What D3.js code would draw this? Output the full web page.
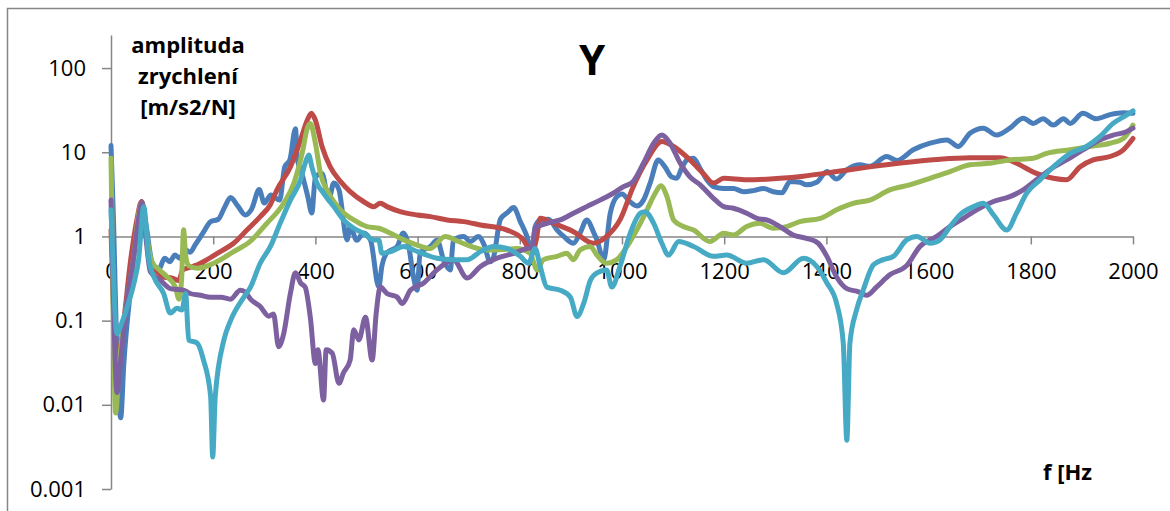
<!DOCTYPE html>
<html>
<head>
<meta charset="utf-8">
<script src="https://cdn.jsdelivr.net/npm/d3@7"></script>
<style>
  body { margin: 0; background: #fff; }
  svg { display: block; }
  .tick text { font-family: "Open Sans", sans-serif; font-size: 22px; fill: #000; }
  .lbl { font-family: "Open Sans", sans-serif; font-weight: bold; fill: #000; }
</style>
</head>
<body>
<svg id="chart" width="1170" height="511"></svg>
<script>
// frequency [Hz], amplitude [m/s2/N]
const blue = [[0,12],[5,1.5],[12,0.03],[19,0.007],[25,0.03],[40,0.3],[50,1.2],[60,2.6],[70,1.2],[80,0.5],[93,0.4],[105,0.55],[115,0.5],[125,0.6],[135,0.55],[145,0.7],[155,0.65],[165,0.8],[180,1.1],[195,1.5],[210,1.6],[222,2.2],[234,2.9],[248,2.3],[263,1.8],[275,2.1],[290,3.6],[300,2.5],[313,3.1],[330,2.7],[340,6.7],[350,8.1],[361,19],[365,8],[372,6],[385,3],[393,1.9],[400,5.1],[413,5.6],[426,2.7],[436,4.3],[446,3.6],[462,0.91],[468,1.3],[481,0.9],[494,1.1],[508,0.9],[524,0.25],[530,0.44],[540,0.64],[560,0.76],[572,1.1],[582,0.8],[592,0.33],[599,0.23],[605,0.64],[625,0.76],[638,0.9],[652,0.5],[664,0.4],[670,0.9],[690,1.0],[703,0.87],[719,1.0],[730,0.8],[742,0.5],[748,0.55],[762,1.6],[775,1.9],[788,2.2],[801,1.5],[814,1.0],[824,0.63],[830,1.3],[840,1.57],[856,1.6],[873,1.19],[886,1.0],[905,0.83],[918,1.1],[931,1.57],[945,1.1],[951,0.91],[964,0.53],[977,1.89],[990,2.97],[1000,3.2],[1015,2.6],[1029,2.3],[1042,2.7],[1055,4.3],[1071,8.1],[1084,6.7],[1097,5.1],[1107,4.9],[1117,6.5],[1127,8.1],[1140,8.5],[1153,6.4],[1166,4.7],[1179,3.9],[1199,3.7],[1218,3.7],[1238,3.4],[1257,3.5],[1277,3.7],[1296,3.4],[1313,3.3],[1329,4.5],[1348,4.4],[1361,4.1],[1381,4.4],[1401,5.9],[1420,4.8],[1440,6.2],[1466,7.1],[1485,6.8],[1518,8.9],[1538,8.0],[1570,10.7],[1603,12.8],[1636,14],[1658,11.7],[1681,16.8],[1707,19.3],[1733,16],[1759,19.3],[1785,25.4],[1805,22],[1824,25],[1844,21],[1864,25],[1877,22],[1902,29],[1928,25],[1955,28],[1981,29.5],[2000,29]];

const red = [[0,1.2],[4,0.2],[8,0.05],[16,0.045],[25,0.1],[38,0.5],[50,1.5],[60,2.6],[68,1.2],[77,0.44],[90,0.38],[103,0.33],[120,0.32],[133,0.3],[140,0.4],[149,0.42],[169,0.46],[188,0.53],[214,0.66],[240,0.83],[266,1.19],[292,1.72],[312,2.4],[325,3.6],[351,6.7],[371,14],[384,24],[392,29],[400,24],[413,11.7],[429,6.7],[449,4.5],[468,3.4],[494,2.6],[514,2.26],[527,2.48],[540,2.26],[566,1.97],[599,1.8],[625,1.72],[658,1.57],[690,1.5],[723,1.37],[775,1.19],[807,0.91],[818,0.7],[824,0.63],[832,0.9],[840,1.64],[866,1.43],[905,1.14],[944,0.83],[970,1.0],[996,1.57],[1022,3.9],[1049,8.1],[1078,13.4],[1101,11.7],[1133,8.1],[1159,5.6],[1179,4.3],[1199,4.9],[1244,4.7],[1309,4.9],[1355,5.2],[1420,5.9],[1485,6.7],[1550,7.5],[1616,8.2],[1681,8.6],[1740,8.6],[1772,7.4],[1811,5.6],[1844,4.9],[1870,4.7],[1896,6.7],[1922,8.1],[1955,8.9],[1981,10.7],[2000,14.6]];

const green = [[0,8.5],[3,0.5],[9,0.008],[16,0.03],[30,0.15],[45,0.6],[55,2.0],[60,2.5],[68,1.2],[80,0.5],[95,0.4],[110,0.33],[126,0.25],[133,0.18],[138,0.3],[142,1.2],[146,0.6],[152,0.45],[169,0.42],[201,0.48],[240,0.66],[273,0.88],[305,1.43],[338,2.48],[358,4.3],[374,9.7],[385,20],[390,22],[400,12.8],[410,5.6],[426,3.26],[449,2.07],[475,1.57],[501,1.31],[524,1.25],[547,1.09],[573,0.91],[599,0.79],[625,0.72],[654,1.0],[680,0.87],[700,0.78],[736,0.69],[770,0.7],[794,0.72],[820,0.63],[834,0.4],[846,0.53],[873,0.58],[892,0.63],[905,0.53],[918,0.69],[938,0.76],[951,0.6],[970,0.48],[990,0.53],[1010,0.76],[1029,1.2],[1049,2.07],[1065,3.26],[1076,4.0],[1088,2.97],[1101,1.57],[1120,1.31],[1140,1.19],[1172,0.87],[1199,1.09],[1218,1.04],[1244,1.31],[1270,1.43],[1296,1.25],[1322,1.31],[1348,1.5],[1388,1.64],[1420,2.07],[1453,2.48],[1485,2.7],[1524,3.57],[1563,4.1],[1603,4.9],[1642,5.9],[1681,7.1],[1720,7.4],[1759,8.1],[1805,8.5],[1831,9.7],[1877,10.7],[1916,11.7],[1955,12.8],[1981,14.6],[2000,21]];

const purple = [[0,2.7],[4,0.3],[9,0.024],[12,0.014],[18,0.03],[30,0.15],[45,0.6],[55,1.8],[60,2.5],[68,1.0],[77,0.38],[97,0.3],[116,0.24],[142,0.23],[155,0.21],[175,0.2],[195,0.19],[215,0.19],[234,0.18],[253,0.23],[262,0.22],[273,0.18],[292,0.147],[309,0.113],[318,0.12],[328,0.049],[338,0.07],[351,0.21],[361,0.37],[371,0.28],[380,0.25],[390,0.11],[400,0.031],[405,0.045],[416,0.0114],[421,0.045],[433,0.041],[446,0.018],[455,0.024],[468,0.034],[475,0.078],[485,0.059],[498,0.11],[511,0.034],[519,0.123],[527,0.25],[540,0.21],[560,0.19],[570,0.16],[586,0.23],[612,0.28],[638,0.4],[670,0.53],[697,0.32],[723,0.44],[755,0.55],[788,0.63],[814,0.72],[824,0.74],[830,1.25],[853,1.43],[879,1.57],[905,1.89],[931,2.26],[957,2.7],[983,3.26],[1003,3.9],[1022,4.5],[1042,7.4],[1062,12.8],[1078,16],[1094,12.8],[1114,7.4],[1133,5.1],[1153,4.1],[1179,2.84],[1199,2.26],[1218,2.16],[1244,1.89],[1264,1.64],[1283,1.57],[1309,1.31],[1335,1.04],[1361,0.95],[1384,0.83],[1401,0.58],[1420,0.33],[1440,0.24],[1463,0.22],[1479,0.2],[1498,0.25],[1524,0.35],[1557,0.45],[1583,0.76],[1616,1.0],[1642,1.31],[1668,1.64],[1694,2.07],[1727,2.6],[1759,2.97],[1785,3.57],[1811,4.7],[1837,6.2],[1870,8.1],[1902,10.7],[1935,14],[1961,16],[1987,17.5],[2000,19.3]];

const cyan = [[0,2.07],[4,0.5],[8,0.12],[12,0.07],[20,0.09],[32,0.147],[45,0.28],[54,0.53],[64,2.26],[74,0.53],[84,0.33],[103,0.21],[116,0.123],[129,0.14],[139,0.134],[146,0.21],[152,0.059],[169,0.054],[181,0.034],[195,0.0125],[199,0.0024],[204,0.0125],[221,0.059],[234,0.1],[260,0.19],[273,0.25],[292,0.48],[312,0.76],[331,1.43],[351,2.7],[371,4.7],[380,7.4],[387,9.3],[393,6.7],[403,4.3],[416,3.26],[436,2.26],[455,1.57],[475,1.25],[494,1.09],[514,0.91],[524,0.91],[530,0.63],[547,0.66],[573,0.76],[592,0.69],[618,0.6],[638,0.55],[670,0.53],[697,0.53],[723,0.66],[749,0.76],[775,0.72],[801,0.58],[817,0.48],[830,0.72],[840,0.44],[853,0.25],[879,0.23],[899,0.19],[912,0.112],[925,0.16],[938,0.3],[951,0.37],[970,0.4],[980,0.25],[996,0.44],[1016,1.09],[1036,1.89],[1045,1.97],[1062,1.43],[1078,0.83],[1091,0.6],[1111,0.87],[1140,0.76],[1179,0.58],[1205,0.6],[1244,0.48],[1277,0.53],[1316,0.37],[1355,0.55],[1381,0.44],[1401,0.28],[1420,0.16],[1433,0.054],[1440,0.0038],[1446,0.054],[1459,0.134],[1472,0.23],[1492,0.46],[1511,0.53],[1531,0.58],[1557,0.91],[1577,1.0],[1603,0.83],[1622,0.91],[1642,1.31],[1661,1.8],[1688,2.26],[1707,2.48],[1727,1.8],[1753,1.19],[1772,1.89],[1792,3.26],[1818,4.7],[1844,6.7],[1877,9.7],[1909,11.7],[1935,15.3],[1961,22],[1987,27.6],[2000,31]];

const seriesData = [blue, red, green, purple, cyan];
const seriesColors = ["#4a7ebb", "#be4b48", "#98b954", "#7d60a0", "#46aac5"];

const xTicks = [0, 200, 400, 600, 800, 1000, 1200, 1400, 1600, 1800, 2000];
const yTicks = [0.001, 0.01, 0.1, 1, 10, 100];
const yTickLabels = ["0.001", "0.01", "0.1", "1", "10", "100"];

const svg = d3.select("#chart");
const axisColor = "#868686";

// outer frame (runs off the right and bottom edge)
svg.append("rect")
    .attr("x", 7.5).attr("y", 8.5)
    .attr("width", 1200).attr("height", 600)
    .attr("fill", "none")
    .attr("stroke", axisColor)
    .attr("stroke-width", 1.5);

const x = d3.scaleLinear().domain([0, 2000]).range([111, 1133]);
const y = d3.scaleLog().domain([0.001, 247]).range([489, 35]);

// y axis
svg.append("g")
    .attr("transform", "translate(111,0)")
    .call(d3.axisLeft(y)
        .tickValues(yTicks)
        .tickFormat((d, i) => yTickLabels[i])
        .tickSize(9)
        .tickSizeOuter(0)
        .tickPadding(16));

// x axis crosses at 1
svg.append("g")
    .attr("transform", `translate(0,${y(1)})`)
    .call(d3.axisBottom(x)
        .tickValues(xTicks)
        .tickFormat(d3.format("d"))
        .tickSize(8)
        .tickSizeOuter(0)
        .tickPadding(19));

svg.selectAll(".domain, .tick line")
    .attr("stroke", axisColor)
    .attr("stroke-width", 1.5);

// lines
const line = d3.line()
    .x(d => x(d[0]))
    .y(d => y(d[1]))
    .curve(d3.curveMonotoneX);

svg.append("g")
    .selectAll("path")
    .data(seriesData)
    .join("path")
        .attr("d", line)
        .attr("fill", "none")
        .attr("stroke", (d, i) => seriesColors[i])
        .attr("stroke-width", 5)
        .attr("stroke-linejoin", "round")
        .attr("stroke-linecap", "round");

// titles
svg.append("text")
    .attr("class", "lbl")
    .attr("x", 592).attr("y", 75)
    .attr("text-anchor", "middle")
    .style("font-size", "42px")
    .text("Y");

const yTitle = ["amplituda", "zrychlení", "[m/s2/N]"];
svg.append("g")
    .selectAll("text")
    .data(yTitle)
    .join("text")
        .attr("class", "lbl")
        .attr("x", 188)
        .attr("y", (d, i) => 53 + i * 31)
        .attr("text-anchor", "middle")
        .style("font-size", "22px")
        .text(d => d);

svg.append("text")
    .attr("class", "lbl")
    .attr("x", 1043).attr("y", 480)
    .style("font-size", "22px")
    .text("f [Hz");
</script>
</body>
</html>
